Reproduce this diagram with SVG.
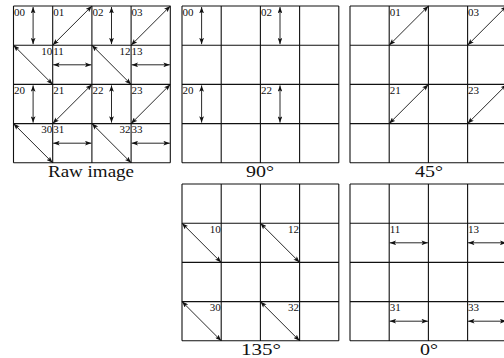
<svg xmlns="http://www.w3.org/2000/svg" width="504" height="358" viewBox="0 0 504 358">
<style>
.grid{fill:none;stroke:#111;stroke-width:1.1}
.arr{fill:none;stroke:#111;stroke-width:0.9;marker-start:url(#ah);marker-end:url(#ah)}
text{font-family:'Liberation Serif','Times New Roman',Times,serif;fill:#111}
.lb{font-size:11px}
.r{text-anchor:end}
.cap{font-size:16px;text-anchor:middle}
</style>
<defs>
<marker id="ah" viewBox="0 0 8 6" refX="8" refY="3" markerWidth="6.5" markerHeight="4.8" markerUnits="userSpaceOnUse" orient="auto-start-reverse">
<path d="M0,0 L8,3 L0,6 L1.8,3 z" fill="#111"/>
</marker>
</defs>
<rect width="504" height="358" fill="#fff"/>

<g id="raw">
<path class="grid" d="M13.5,6H170.3M13.5,45.2H170.3M13.5,84.4H170.3M13.5,123.6H170.3M13.5,162.8H170.3M13.5,6V162.8M52.7,6V162.8M91.9,6V162.8M131.1,6V162.8M170.3,6V162.8"/>
<text class="lb" x="14" y="15.5">00</text>
<text class="lb" x="53.2" y="15.5">01</text>
<text class="lb" x="92.4" y="15.5">02</text>
<text class="lb" x="131.6" y="15.5">03</text>
<text class="lb r" x="52.2" y="54.7">10</text>
<text class="lb" x="53.2" y="54.7">11</text>
<text class="lb r" x="130.6" y="54.7">12</text>
<text class="lb" x="131.6" y="54.7">13</text>
<text class="lb" x="14" y="93.9">20</text>
<text class="lb" x="53.2" y="93.9">21</text>
<text class="lb" x="92.4" y="93.9">22</text>
<text class="lb" x="131.6" y="93.9">23</text>
<text class="lb r" x="52.2" y="133.1">30</text>
<text class="lb" x="53.2" y="133.1">31</text>
<text class="lb r" x="130.6" y="133.1">32</text>
<text class="lb" x="131.6" y="133.1">33</text>
<text class="cap" x="91" y="176.5" textLength="86" lengthAdjust="spacingAndGlyphs">Raw image</text>
</g>

<g id="deg90">
<path class="grid" d="M182,6H338.8M182,45.2H338.8M182,84.4H338.8M182,123.6H338.8M182,162.8H338.8M182,6V162.8M221.2,6V162.8M260.4,6V162.8M299.6,6V162.8M338.8,6V162.8"/>
<text class="lb" x="182.5" y="15.5">00</text>
<text class="lb" x="260.9" y="15.5">02</text>
<text class="lb" x="182.5" y="93.9">20</text>
<text class="lb" x="260.9" y="93.9">22</text>
<text class="cap" x="260" y="176.5" textLength="28" lengthAdjust="spacingAndGlyphs">90°</text>
</g>

<g id="deg45">
<path class="grid" d="M350,6H506.8M350,45.2H506.8M350,84.4H506.8M350,123.6H506.8M350,162.8H506.8M350,6V162.8M389.2,6V162.8M428.4,6V162.8M467.6,6V162.8M506.8,6V162.8"/>
<text class="lb" x="389.7" y="15.5">01</text>
<text class="lb" x="468.1" y="15.5">03</text>
<text class="lb" x="389.7" y="93.9">21</text>
<text class="lb" x="468.1" y="93.9">23</text>
<text class="cap" x="429" y="176.5" textLength="28" lengthAdjust="spacingAndGlyphs">45°</text>
</g>

<g id="deg135">
<path class="grid" d="M182,184H338.8M182,223.2H338.8M182,262.4H338.8M182,301.6H338.8M182,340.8H338.8M182,184V340.8M221.2,184V340.8M260.4,184V340.8M299.6,184V340.8M338.8,184V340.8"/>
<text class="lb r" x="220.7" y="232.7">10</text>
<text class="lb r" x="299.1" y="232.7">12</text>
<text class="lb r" x="220.7" y="311.1">30</text>
<text class="lb r" x="299.1" y="311.1">32</text>
<text class="cap" x="261" y="355" textLength="40" lengthAdjust="spacingAndGlyphs">135°</text>
</g>

<g id="deg0">
<path class="grid" d="M350,184H506.8M350,223.2H506.8M350,262.4H506.8M350,301.6H506.8M350,340.8H506.8M350,184V340.8M389.2,184V340.8M428.4,184V340.8M467.6,184V340.8M506.8,184V340.8"/>
<text class="lb" x="389.7" y="232.7">11</text>
<text class="lb" x="468.1" y="232.7">13</text>
<text class="lb" x="389.7" y="311.1">31</text>
<text class="lb" x="468.1" y="311.1">33</text>
<text class="cap" x="429" y="355" textLength="18" lengthAdjust="spacingAndGlyphs">0°</text>
</g>

<g id="connectors">
<path class="arr" d="M33.1,7V44.2"/>
<path class="arr" d="M111.5,7V44.2"/>
<path class="arr" d="M33.1,85.4V122.6"/>
<path class="arr" d="M111.5,85.4V122.6"/>
<path class="arr" d="M52.7,45.2L91.9,6"/>
<path class="arr" d="M131.1,45.2L170.3,6"/>
<path class="arr" d="M52.7,123.6L91.9,84.4"/>
<path class="arr" d="M131.1,123.6L170.3,84.4"/>
<path class="arr" d="M13.5,45.2L52.7,84.4"/>
<path class="arr" d="M91.9,45.2L131.1,84.4"/>
<path class="arr" d="M13.5,123.6L52.7,162.8"/>
<path class="arr" d="M91.9,123.6L131.1,162.8"/>
<path class="arr" d="M53.2,64.8H91.4"/>
<path class="arr" d="M131.6,64.8H169.8"/>
<path class="arr" d="M53.2,143.2H91.4"/>
<path class="arr" d="M131.6,143.2H169.8"/>
<path class="arr" d="M201.6,7V44.2"/>
<path class="arr" d="M280,7V44.2"/>
<path class="arr" d="M201.6,85.4V122.6"/>
<path class="arr" d="M280,85.4V122.6"/>
<path class="arr" d="M389.2,45.2L428.4,6"/>
<path class="arr" d="M467.6,45.2L506.8,6"/>
<path class="arr" d="M389.2,123.6L428.4,84.4"/>
<path class="arr" d="M467.6,123.6L506.8,84.4"/>
<path class="arr" d="M182,223.2L221.2,262.4"/>
<path class="arr" d="M260.4,223.2L299.6,262.4"/>
<path class="arr" d="M182,301.6L221.2,340.8"/>
<path class="arr" d="M260.4,301.6L299.6,340.8"/>
<path class="arr" d="M389.7,242.8H427.9"/>
<path class="arr" d="M468.1,242.8H506.3"/>
<path class="arr" d="M389.7,321.2H427.9"/>
<path class="arr" d="M468.1,321.2H506.3"/>
</g>
</svg>
